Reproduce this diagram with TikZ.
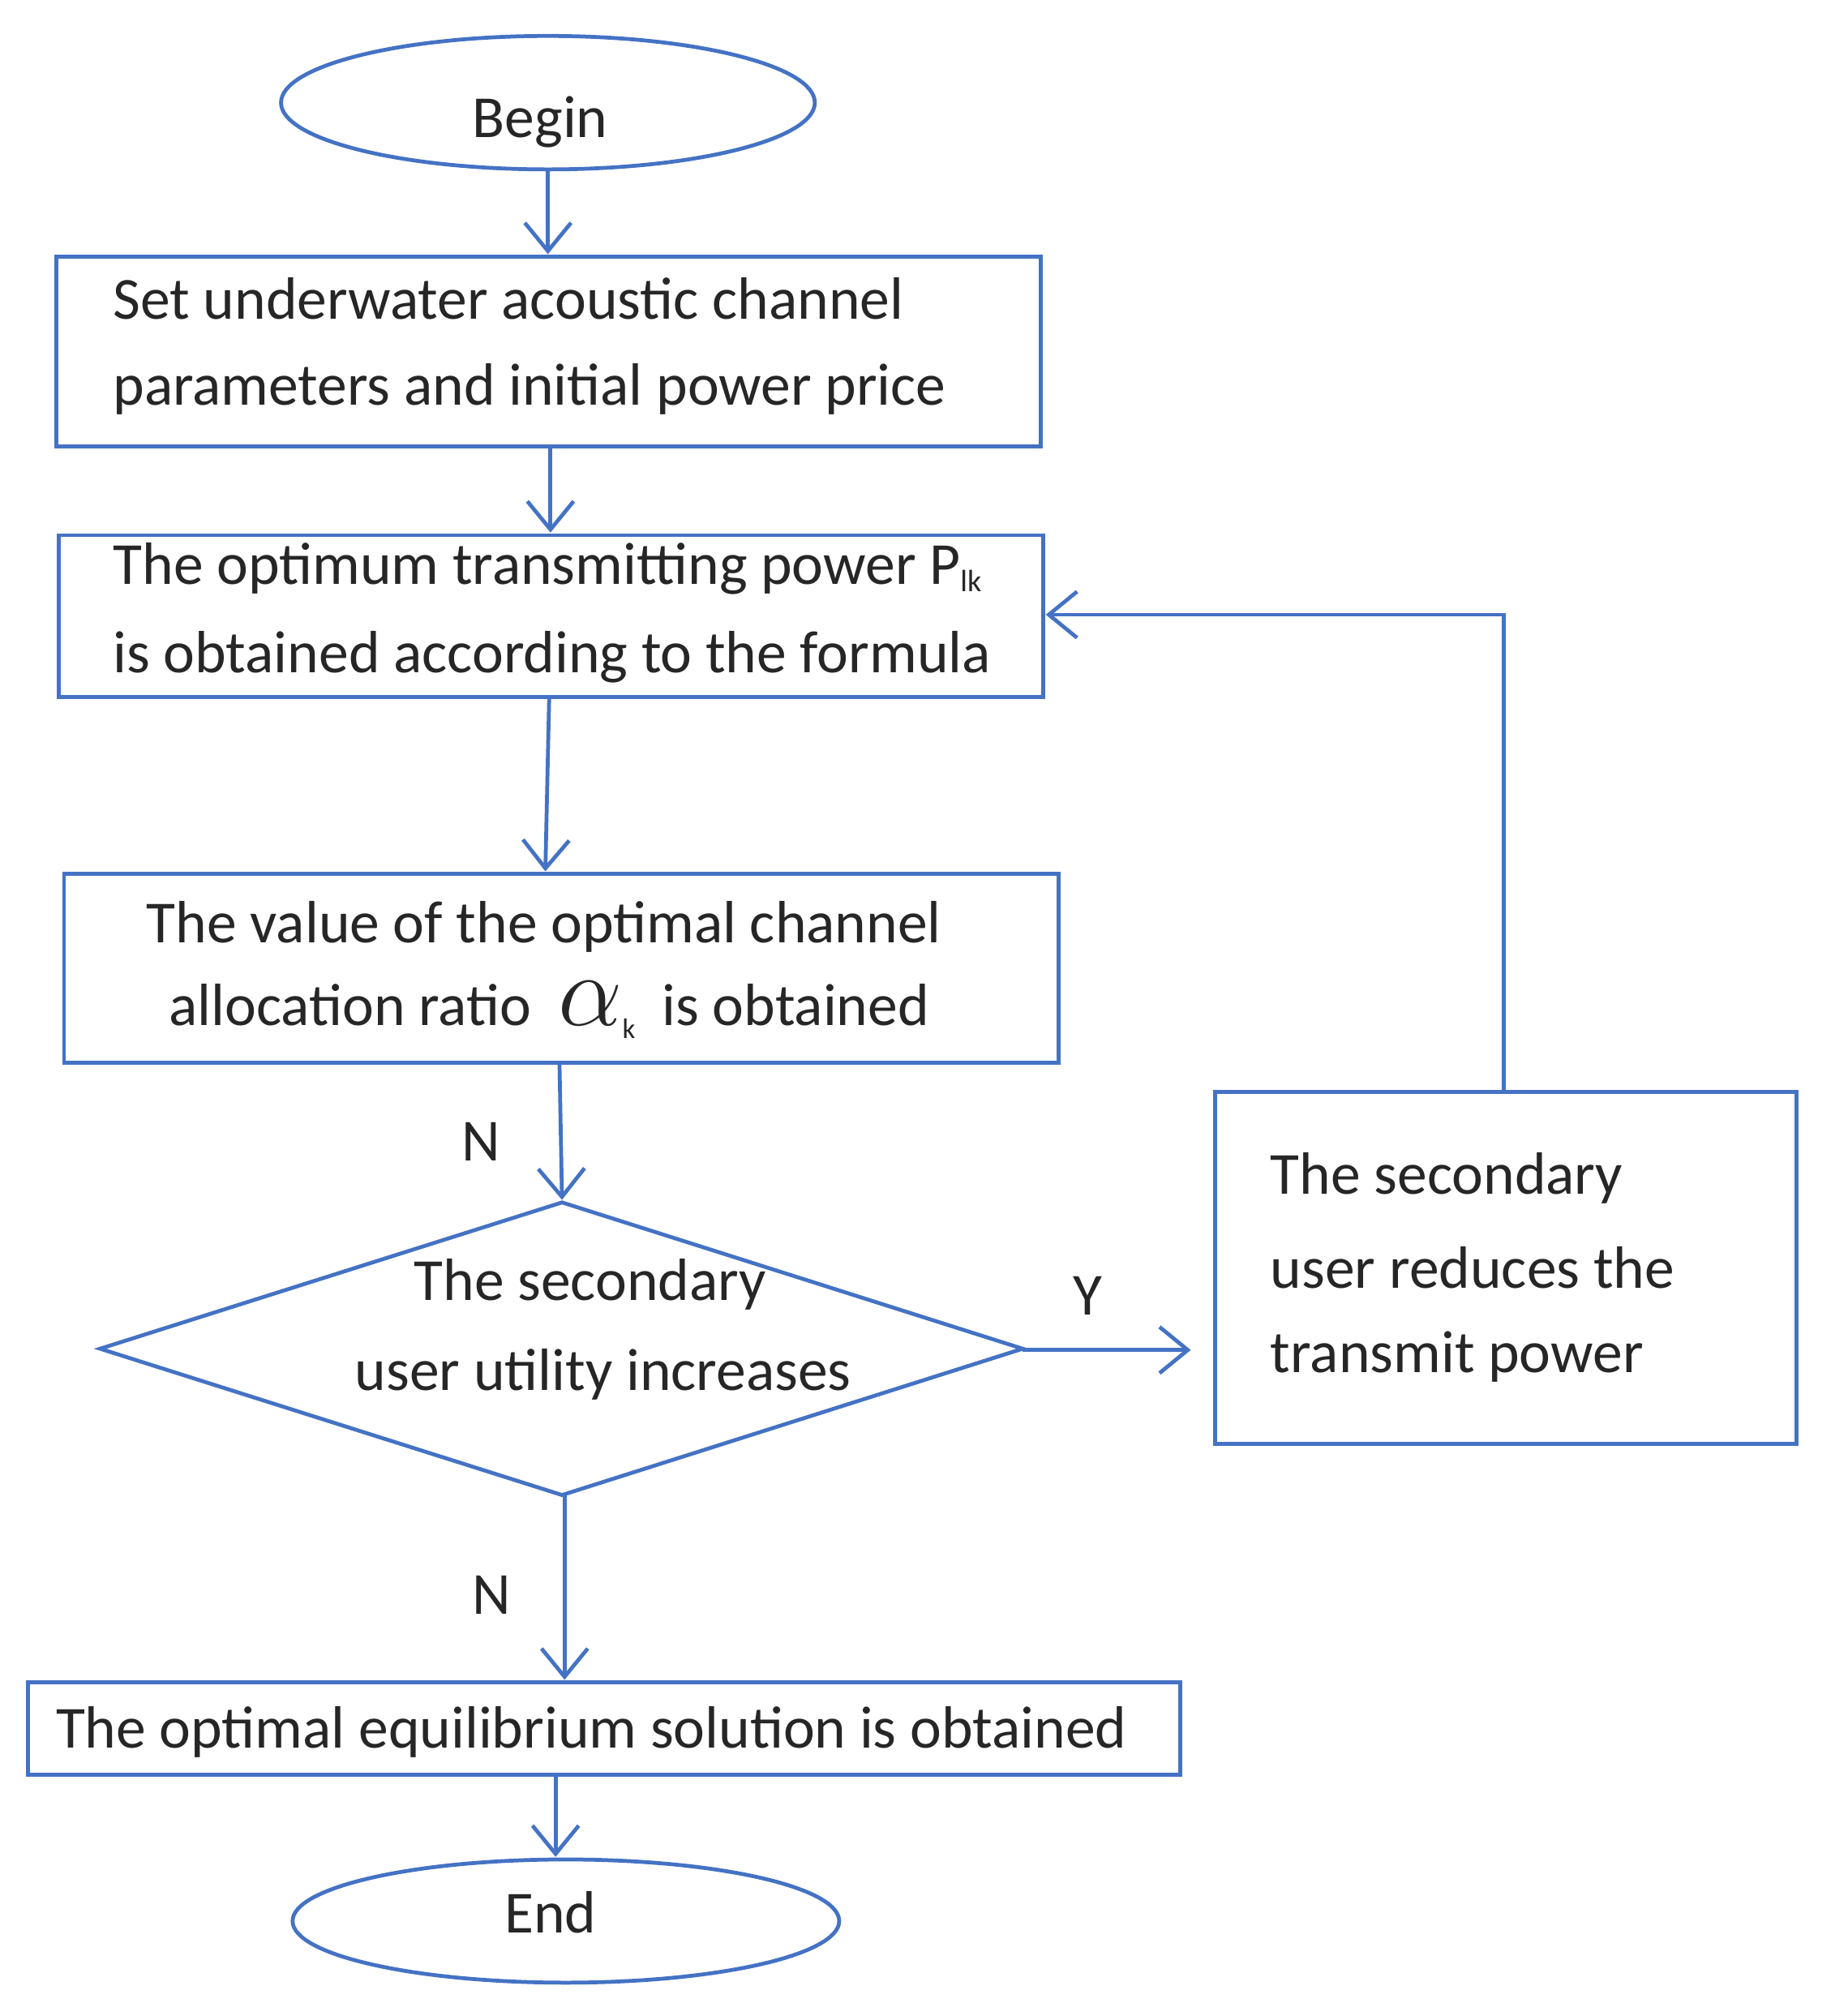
\documentclass[tikz,border=0pt]{standalone}
\usepackage{fontspec}
\setmainfont{Carlito}
\usepackage{graphicx}
\usetikzlibrary{arrows.meta,shapes.geometric}
\definecolor{bl}{RGB}{68,114,196}
\begin{document}
\begin{tikzpicture}[x=1pt,y=-1pt,
  every node/.style={font=\fontsize{46.5}{54}\selectfont, text=black!85},
  ln/.style={draw=bl,line width=3pt},
  ar/.style={ln,-{Straight Barb[length=22pt,width=36pt,line width=3pt]}},
  lab/.style={inner sep=0pt}]
\useasboundingbox (0,0) rectangle (1440,1571);
% shapes
\draw[ln] (427,80) ellipse [x radius=208,y radius=52];
\node[lab] (begin) at (421,95) {Begin};
\draw[ln] (44,200) rectangle (811,348);
\node[lab,anchor=west] (t1a) at (88,233) {Set underwater acoustic channel};
\node[lab,anchor=west] (t1b) at (88,303) {parameters and initial power price};
\draw[ln] (46,417) rectangle (813,543);
\node[lab,anchor=west] (t2a) at (88,443) {The optimum transmitting power P\raisebox{-0.25ex}{\fontsize{24}{26}\selectfont lk}};
\node[lab,anchor=west] (t2b) at (88,512) {is obtained according to the formula};
\draw[ln] (50,681) rectangle (825,828);
\node[lab] (t3a) at (424,722) {The value of the optimal channel};
\node[lab] (t3b) at (428,787) {allocation ratio \ \scalebox{3.2}{$\alpha$}\raisebox{-0.45ex}{\fontsize{22}{24}\selectfont k}\ \ is obtained};
\draw[ln] (78,1051) -- (438,937) -- (797,1051) -- (438,1165) -- cycle;
\node[lab] (d1) at (460,1001) {The secondary};
\node[lab] (d2) at (470,1071) {user utility increases};
\draw[ln] (947,851) rectangle (1400,1125);
\node[lab,anchor=west] (r1) at (990,918) {The secondary};
\node[lab,anchor=west] (r2) at (990,988) {user reduces the};
\node[lab,anchor=west] (r3) at (990,1057) {transmit power};
\draw[ln] (22,1311) rectangle (920,1383);
\node[lab] (t4) at (461,1350) {The optimal equilibrium solution is obtained};
\draw[ln] (441,1497) ellipse [x radius=213,y radius=48];
\node[lab] (end) at (429,1490) {End};
% labels
\node[lab] (n1) at (375,890) {N};
\node[lab] (n2) at (383,1243) {N};
\node[lab] (y1) at (848,1010) {Y};
% connectors
\draw[ar] (427,132) -- (427,198);
\draw[ar] (429,348) -- (429,415);
\draw[ar] (428,543) -- (425,679);
\draw[ar] (436,828) -- (438,935);
\draw[ar] (440,1165) -- (440,1309);
\draw[ar] (797,1052) -- (928,1052);
\draw[ar] (1172,851) -- (1172,479) -- (815,479);
\draw[ar] (433,1383) -- (433,1447);
\end{tikzpicture}
\end{document}
